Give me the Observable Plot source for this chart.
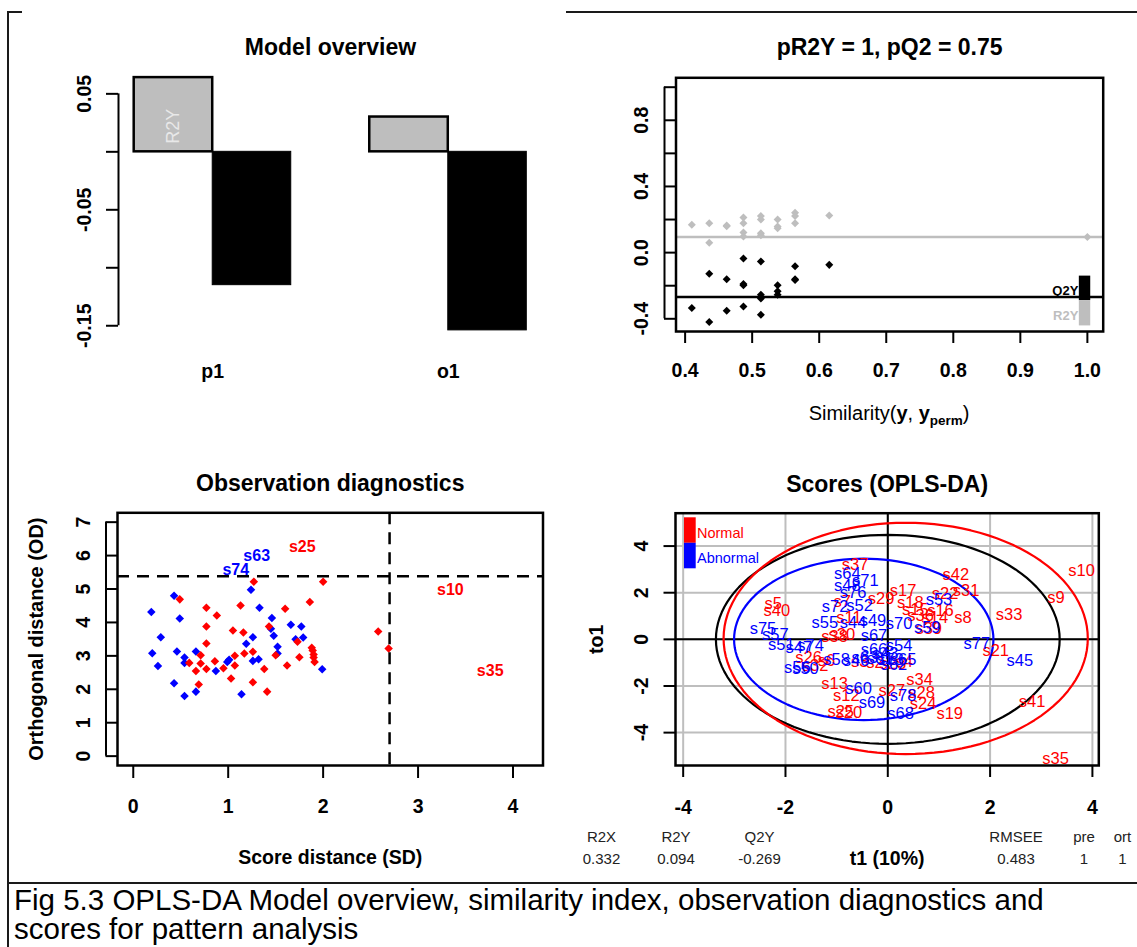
<!DOCTYPE html>
<html>
<head>
<meta charset="utf-8">
<script src="https://cdn.jsdelivr.net/npm/d3@7"></script>
<script src="https://cdn.jsdelivr.net/npm/@observablehq/plot@0.6"></script>
<style>
  html, body { margin: 0; padding: 0; background: #fff; }
  #page { position: relative; width: 1137px; height: 947px; overflow: hidden; background: #fff;
          font-family: "Liberation Sans", Arial, Helvetica, sans-serif; }
  #page svg { position: absolute; overflow: visible; }
  .rule { position: absolute; background: #1a1a1a; }
  #caption { position: absolute; left: 14px; top: 885px; font-size: 29.5px; line-height: 29px; color: #000; white-space: nowrap; }
</style>
</head>
<body>
<div id="page">
  <div class="rule" style="left:7px;top:11px;width:1.5px;height:936px"></div>
  <div class="rule" style="left:7px;top:11px;width:15px;height:1.5px"></div>
  <div class="rule" style="left:566px;top:11px;width:571px;height:1.5px"></div>
  <div class="rule" style="left:7px;top:882px;width:1130px;height:2px"></div>
  <div id="caption">Fig 5.3 OPLS-DA Model overview, similarity index, observation diagnostics and<br>scores for pattern analysis</div>
</div>
<script>
// ================= DATA =================
// --- Model overview ---
const components = ["p1", "o1"];
const componentR2Y = [0.064, 0.030];
const componentQ2Y = [-0.115, -0.154];
const overviewYTicks = [0.05, 0, -0.05, -0.10, -0.15];
const overviewYLabels = [0.05, -0.05, -0.15];

// --- Permutation test (similarity index) ---
const permSimilarity = [0.410, 0.436, 0.436, 0.462, 0.462, 0.487, 0.487, 0.487, 0.487, 0.513,
                        0.513, 0.513, 0.513, 0.538, 0.538, 0.538, 0.564, 0.564, 0.564, 0.615];
const permR2Y = [0.168, 0.178, 0.060, 0.164, 0.160, 0.212, 0.178, 0.121, 0.097, 0.221,
                 0.200, 0.117, 0.105, 0.200, 0.158, 0.148, 0.241, 0.221, 0.178, 0.225];
const permQ2Y = [-0.335, -0.128, -0.420, -0.161, -0.351, -0.035, -0.189, -0.197, -0.325, -0.053,
                 -0.254, -0.278, -0.376, -0.197, -0.234, -0.254, -0.082, -0.161, -0.165, -0.074];
const modelSimilarity = 1;
const modelR2Y = 0.094;
const modelQ2Y = -0.269;
const permLegendNames = ["Q2Y", "R2Y"];
const permLegendColors = ["#000000", "#BEBEBE"];
const permLegendHigh = [-0.142, -0.290];
const permLegendLow = [-0.290, -0.443];
const permLegendTextY = [-0.232, -0.384];
const permXTicks = [0.4, 0.5, 0.6, 0.7, 0.8, 0.9, 1.0];
const permYTicks = [-0.4, -0.2, 0, 0.2, 0.4, 0.6, 0.8, 1.0];
const permYLabels = [-0.4, 0, 0.4, 0.8];

// --- Observation diagnostics ---
const normalSD = [0.49,0.77,0.88,0.77,0.77,0.59,0.71,0.71,0.66,0.77,0.69,0.86,0.95,1.07,1.05,1.07,1.03,1.13,1.16,1.17,
                  1.27,1.26,1.26,1.38,1.41,1.43,1.50,1.60,1.62,1.73,1.75,1.86,1.88,1.89,1.90,1.90,1.91,2.00,2.58,2.69];
const normalOD = [4.69,4.44,4.21,3.88,3.37,2.79,3.02,2.77,2.55,2.61,2.14,2.84,2.63,3.00,3.76,2.71,2.32,4.51,3.70,3.07,
                  5.22,3.12,2.21,2.61,1.93,3.88,3.02,4.41,2.71,3.42,2.96,4.61,3.24,3.16,3.04,2.95,2.82,5.22,3.73,3.22];
const abnormalSD = [0.19,0.43,0.49,0.29,0.20,0.26,0.46,0.54,0.54,0.43,0.54,0.66,0.66,0.87,0.99,1.01,1.14,1.19,1.26,1.24,
                    1.33,1.26,1.32,1.46,1.45,1.48,1.52,1.52,1.66,1.77,1.71,1.79,1.99];
const abnormalOD = [4.31,4.80,4.12,3.56,3.08,2.70,3.13,2.95,2.79,2.18,1.80,1.93,3.13,2.55,2.82,2.88,1.85,3.36,3.56,4.98,
                    4.44,2.85,2.90,4.13,3.81,3.60,3.27,3.07,3.93,3.88,3.50,3.55,2.60];
const outlierNames = ["s74", "s63", "s25", "s10", "s35"];
const outlierClass = ["Abnormal", "Abnormal", "Normal", "Normal", "Normal"];
const outlierSD = [1.08, 1.30, 1.78, 3.34, 3.76];
const outlierOD = [5.56, 6.00, 6.25, 4.98, 2.55];
const sdCutoff = 2.70;
const odCutoff = 5.38;
const diagXTicks = [0, 1, 2, 3, 4];
const diagYTicks = [0, 1, 2, 3, 4, 5, 6, 7];

// --- Scores (OPLS-DA) ---
const normalNames = ["s37","s5","s40","s29","s17","s42","s22","s31","s10","s9","s33","s8","s21","s41","s35","s34","s28",
  "s27","s24","s19","s13","s12","s25","s20","s7","s11","s38","s30","s18","s15","s16","s36","s14","s39","s26","s32","s6",
  "s3","s2","s23","s4"];
const normalT1 = [-0.64,-2.24,-2.17,-0.13,0.30,1.33,1.12,1.53,3.79,3.29,2.37,1.47,2.11,2.82,3.28,0.62,0.66,
  0.08,0.69,1.21,-1.04,-0.81,-0.92,-0.76,-0.89,-0.76,-1.04,-0.90,0.44,0.54,1.03,0.64,0.92,0.80,-1.55,-1.42,-1.20,
  -0.55,-0.25,0.10,0.32];
const normalTo1 = [3.21,1.54,1.22,1.75,2.09,2.77,1.95,2.07,2.93,1.78,1.07,0.93,-0.50,-2.66,-5.10,-1.71,-2.31,
  -2.21,-2.74,-3.19,-1.90,-2.43,-3.12,-3.16,1.60,0.93,0.12,0.20,1.57,1.29,1.21,1.00,0.93,0.47,-0.79,-1.14,-0.90,
  -0.95,-1.00,-1.05,-0.95];
const abnormalNames = ["s64","s71","s48","s76","s72","s52","s55","s44","s49","s70","s67","s53","s59","s75","s57","s51",
  "s47","s74","s66","s54","s58","s56","s50","s63","s61","s73","s65","s46","s43","s62","s77","s45","s60","s69","s78","s68"];
const abnormalT1 = [-0.79,-0.44,-0.79,-0.68,-1.03,-0.55,-1.23,-0.68,-0.29,0.22,-0.27,1.00,0.77,-2.44,-2.20,-2.08,
  -1.74,-1.51,-0.27,0.22,-1.00,-1.77,-1.61,-0.45,-0.15,0.05,0.30,-0.62,-0.05,0.12,1.74,2.58,-0.57,-0.31,0.30,0.25];
const abnormalTo1 = [2.81,2.53,2.29,2.00,1.40,1.46,0.73,0.73,0.82,0.66,0.17,1.69,0.50,0.47,0.19,-0.24,
  -0.36,-0.29,-0.43,-0.29,-0.86,-1.21,-1.25,-0.78,-0.82,-0.88,-0.86,-0.92,-0.62,-1.10,-0.18,-0.91,-2.12,-2.72,-2.40,-3.19];
const ellipseGroups = ["All", "Normal", "Abnormal"];
const ellipseColors = ["#000000", "#FF0000", "#0000FF"];
const ellipseCenterT1 = [0, 0.35, -0.47];
const ellipseCenterTo1 = [0, 0.04, 0];
const ellipseRadiusT1 = [3.36, 3.56, 2.535];
const ellipseRadiusTo1 = [4.48, 4.96, 3.46];
const scoreTicks = [-4, -2, 0, 2, 4];
const classNames = ["Normal", "Abnormal"];
const classColors = ["#FF0000", "#0000FF"];
const statNames = ["R2X", "R2Y", "Q2Y", "RMSEE", "pre", "ort"];
const statValues = ["0.332", "0.094", "-0.269", "0.483", "1", "1"];

// ================= RENDER =================
const FONT = '"Liberation Sans", Arial, Helvetica, sans-serif';
const page = document.getElementById("page");
const RED = "#FF0000", BLUE = "#0000FF", GRAY = "#BEBEBE";
const BOLD = {fontWeight: "bold", fill: "#000", fontFamily: FONT};
const baseStyle = {fontFamily: FONT, background: "transparent", overflow: "visible", color: "#000"};

function place(svg, left, top) {
  svg.style.left = left + "px";
  svg.style.top = top + "px";
  svg.style.maxWidth = "none";
  page.appendChild(svg);
  return svg;
}
function rExtend(lo, hi) { const e = 0.04 * (hi - lo); return [lo - e, hi + e]; }

// pch 18 style diamond (equal diagonals)
const diamond = {
  draw(context, size) {
    const h = Math.sqrt(size / 2);
    context.moveTo(0, -h); context.lineTo(h, 0); context.lineTo(0, h); context.lineTo(-h, 0); context.closePath();
  }
};

function yTickLabels(values, fmt, dx) {
  return Plot.text(values, {y: d => d, text: fmt, frameAnchor: "left", dx, rotate: -90,
    textAnchor: "middle", lineAnchor: "middle", fontSize: 19.5, ...BOLD});
}
function xTickLabels(values, fmt, dy) {
  return Plot.text(values, {x: d => d, text: fmt, frameAnchor: "bottom", dy,
    textAnchor: "middle", lineAnchor: "middle", fontSize: 19.5, ...BOLD});
}
function title(txt, dy) {
  return Plot.text([txt], {text: d => d, frameAnchor: "top", dy, lineAnchor: "middle", fontSize: 23, ...BOLD});
}

// ---------- Panel 1 : Model overview ----------
{
  const bars = components.flatMap((c, i) => [
    {component: c, metric: "R2Y", x1: 1 + 3 * i, x2: 2 + 3 * i, value: componentR2Y[i]},
    {component: c, metric: "Q2Y", x1: 2 + 3 * i, x2: 3 + 3 * i, value: componentQ2Y[i]}
  ]);
  const xDom = rExtend(d3.min(bars, d => d.x1), d3.max(bars, d => d.x2));
  const vals = bars.map(d => d.value);
  const yDom = rExtend(Math.min(0, ...vals), Math.max(0, ...vals));
  const svg = Plot.plot({
    width: 570, height: 440, marginLeft: 118, marginRight: 28, marginTop: 67, marginBottom: 100,
    x: {domain: xDom, axis: null}, y: {domain: yDom, axis: null},
    style: baseStyle,
    marks: [
      Plot.rect(bars.filter(d => d.metric === "R2Y"), {x1: "x1", x2: "x2", y1: 0, y2: "value", fill: GRAY, stroke: "#000", strokeWidth: 2.5}),
      Plot.rect(bars.filter(d => d.metric === "Q2Y"), {x1: "x1", x2: "x2", y1: 0, y2: "value", fill: "#000", stroke: "#000", strokeWidth: 1}),
      Plot.text(bars.filter(d => d.metric === "R2Y" && d.component === "p1"),
        {x: d => (d.x1 + d.x2) / 2, y: 0, text: d => d.metric, rotate: -90, textAnchor: "start", lineAnchor: "middle",
         dy: -8, fill: "#E8E8E8", fontSize: 18, fontFamily: FONT}),
      Plot.ruleX([xDom[0]], {y1: d3.min(overviewYTicks), y2: d3.max(overviewYTicks), stroke: "#000", strokeWidth: 2}),
      Plot.axisY(overviewYTicks, {anchor: "left", tickSize: 12, tickFormat: () => "", label: null, strokeWidth: 2}),
      yTickLabels(overviewYLabels, d => d.toFixed(2), -34),
      Plot.text(components, {x: (d, i) => 2 + 3 * i, text: d => d, frameAnchor: "bottom", dy: 31,
        lineAnchor: "middle", fontSize: 19.5, ...BOLD}),
      title("Model overview", -20)
    ]
  });
  place(svg, 0, 0);
}

// ---------- Panel 2 : Permutation / similarity ----------
{
  const allY = [...permR2Y, ...permQ2Y, modelR2Y, modelQ2Y];
  const xDom = rExtend(d3.min(permSimilarity), modelSimilarity);
  const yDom = rExtend(d3.min(allY), 1);
  const idx = d3.range(permSimilarity.length);
  const legIdx = d3.range(permLegendNames.length);
  const svg = Plot.plot({
    width: 567, height: 440, marginLeft: 105.5, marginRight: 34.3, marginTop: 77.3, marginBottom: 109,
    x: {domain: xDom, axis: null}, y: {domain: yDom, axis: null},
    style: baseStyle,
    marks: [
      Plot.ruleY([modelR2Y], {stroke: GRAY, strokeWidth: 2.5}),
      Plot.ruleY([modelQ2Y], {stroke: "#000", strokeWidth: 2.5}),
      Plot.dot(idx, {x: i => permSimilarity[i], y: i => permR2Y[i], symbol: diamond, r: 3.2, fill: GRAY, stroke: "none"}),
      Plot.dot(idx, {x: i => permSimilarity[i], y: i => permQ2Y[i], symbol: diamond, r: 3.2, fill: "#000", stroke: "none"}),
      Plot.dot([modelSimilarity], {x: d => d, y: modelR2Y, symbol: diamond, r: 3.2, fill: GRAY, stroke: "none"}),
      Plot.rect(legIdx, {x1: 0.988, x2: 1.005, y1: i => permLegendLow[i], y2: i => permLegendHigh[i],
        fill: i => permLegendColors[i]}),
      Plot.text(legIdx, {x: 0.988, y: i => permLegendTextY[i], text: i => permLegendNames[i], textAnchor: "end",
        lineAnchor: "middle", dx: -1, fontSize: 13, fontWeight: "bold", fill: i => permLegendColors[i], fontFamily: FONT}),
      Plot.frame({stroke: "#000", strokeWidth: 2.5}),
      Plot.ruleX([xDom[0]], {y1: d3.min(permYTicks), y2: d3.max(permYTicks), dx: -11.5, stroke: "#000", strokeWidth: 2}),
      Plot.axisY(permYTicks, {anchor: "left", tickSize: 11.5, tickFormat: () => "", label: null, strokeWidth: 2}),
      Plot.axisX(permXTicks, {anchor: "bottom", tickSize: 12, tickFormat: () => "", label: null, strokeWidth: 2}),
      yTickLabels(permYLabels, d => d.toFixed(1), -34.5),
      xTickLabels(permXTicks, d => d.toFixed(1), 39),
      title("pR2Y = 1, pQ2 = 0.75", -30.3)
    ]
  });
  // x-axis title with mixed styling
  const t = d3.select(svg).append("text")
    .attr("x", 105.5 + (567 - 105.5 - 34.3) / 2).attr("y", 420)
    .attr("text-anchor", "middle").attr("font-family", FONT).attr("font-size", 20).attr("fill", "#000");
  t.append("tspan").text("Similarity(");
  t.append("tspan").attr("font-weight", "bold").text("y");
  t.append("tspan").text(", ");
  t.append("tspan").attr("font-weight", "bold").text("y");
  t.append("tspan").attr("font-weight", "bold").attr("font-size", 13.5).attr("dy", 5).text("perm");
  t.append("tspan").attr("dy", -5).text(")");
  place(svg, 570, 0);
}

// ---------- Panel 3 : Observation diagnostics ----------
{
  const xDom = rExtend(0, 4.15);
  const yDom = rExtend(0, 7);
  const nIdx = d3.range(normalSD.length), aIdx = d3.range(abnormalSD.length), oIdx = d3.range(outlierNames.length);
  const svg = Plot.plot({
    width: 570, height: 445, marginLeft: 117, marginRight: 27.5, marginTop: 72.3, marginBottom: 120,
    x: {domain: xDom, axis: null}, y: {domain: yDom, axis: null},
    style: baseStyle,
    marks: [
      Plot.dot(aIdx, {x: i => abnormalSD[i], y: i => abnormalOD[i], symbol: diamond, r: 3.4, fill: BLUE, stroke: "none"}),
      Plot.dot(nIdx, {x: i => normalSD[i], y: i => normalOD[i], symbol: diamond, r: 3.4, fill: RED, stroke: "none"}),
      Plot.text(oIdx, {x: i => outlierSD[i], y: i => outlierOD[i], text: i => outlierNames[i],
        fill: i => outlierClass[i] === "Normal" ? RED : BLUE, fontSize: 16, fontWeight: "bold", fontFamily: FONT,
        lineAnchor: "middle"}),
      Plot.ruleX([sdCutoff], {stroke: "#000", strokeWidth: 2.5, strokeDasharray: "12,8"}),
      Plot.ruleY([odCutoff], {stroke: "#000", strokeWidth: 2.5, strokeDasharray: "12,8"}),
      Plot.frame({stroke: "#000", strokeWidth: 2.5}),
      Plot.ruleX([xDom[0]], {y1: d3.min(diagYTicks), y2: d3.max(diagYTicks), dx: -11.5, stroke: "#000", strokeWidth: 2}),
      Plot.axisY(diagYTicks, {anchor: "left", tickSize: 11.5, tickFormat: () => "", label: null, strokeWidth: 2}),
      Plot.axisX(diagXTicks, {anchor: "bottom", tickSize: 13, tickFormat: () => "", label: null, strokeWidth: 2}),
      yTickLabels(diagYTicks, d => d.toFixed(0), -33.4),
      xTickLabels(diagXTicks, d => d.toFixed(0), 41),
      Plot.text(["Orthogonal distance (OD)"], {text: d => d, frameAnchor: "left", dx: -80.6, rotate: -90,
        textAnchor: "middle", lineAnchor: "middle", fontSize: 20, ...BOLD}),
      Plot.text(["Score distance (SD)"], {text: d => d, frameAnchor: "bottom", dy: 92,
        lineAnchor: "middle", fontSize: 19.5, ...BOLD}),
      title("Observation diagnostics", -29.3)
    ]
  });
  place(svg, 0, 440);
}

// ---------- Panel 4 : Scores (OPLS-DA) ----------
{
  const xDom = [-4.15, 4.125];
  const yDom = [-5.41, 5.41];
  const frameW = 567 - 105 - 38.7, frameH = 445 - 72.7 - 120;
  const pxX = px => xDom[0] + px / frameW * (xDom[1] - xDom[0]);
  const pxY = py => yDom[1] - py / frameH * (yDom[1] - yDom[0]);
  const angles = d3.range(0, 362, 3).map(a => a * Math.PI / 180);
  const nIdx = d3.range(normalNames.length), aIdx = d3.range(abnormalNames.length);
  const legIdx = d3.range(classNames.length);
  const statX = [31, 105.5, 189, 445.5, 513.5, 552];
  const statMarks = statNames.flatMap((s, i) => [
    Plot.text([s], {text: d => d, frameAnchor: "bottom-left", dx: statX[i] - 105, dy: 71.7, lineAnchor: "middle",
      textAnchor: "middle", fontSize: 15, fill: "#222", fontFamily: FONT}),
    Plot.text([statValues[i]], {text: d => d, frameAnchor: "bottom-left", dx: statX[i] - 105, dy: 93.3, lineAnchor: "middle",
      textAnchor: "middle", fontSize: 15, fill: "#222", fontFamily: FONT})
  ]);
  const svg = Plot.plot({
    width: 567, height: 445, marginLeft: 105, marginRight: 38.7, marginTop: 72.7, marginBottom: 120,
    x: {domain: xDom, axis: null}, y: {domain: yDom, axis: null},
    style: baseStyle,
    marks: [
      Plot.ruleX(scoreTicks, {stroke: GRAY, strokeWidth: 2}),
      Plot.ruleY(scoreTicks, {stroke: GRAY, strokeWidth: 2}),
      Plot.ruleX([0], {stroke: "#000", strokeWidth: 2}),
      Plot.ruleY([0], {stroke: "#000", strokeWidth: 2}),
      ...ellipseGroups.map((g, i) => Plot.line(angles, {
        x: a => ellipseCenterT1[i] + ellipseRadiusT1[i] * Math.cos(a),
        y: a => ellipseCenterTo1[i] + ellipseRadiusTo1[i] * Math.sin(a),
        stroke: ellipseColors[i], strokeWidth: 2.2})),
      Plot.text(nIdx, {x: i => normalT1[i], y: i => normalTo1[i], text: i => normalNames[i], fill: RED,
        fontSize: 16.5, lineAnchor: "middle", fontFamily: FONT}),
      Plot.text(aIdx, {x: i => abnormalT1[i], y: i => abnormalTo1[i], text: i => abnormalNames[i], fill: BLUE,
        fontSize: 16.5, lineAnchor: "middle", fontFamily: FONT}),
      Plot.rect(legIdx, {x1: pxX(9), x2: pxX(20.7), y1: i => pxY(4.6 + 25.5 * i), y2: i => pxY(30.1 + 25.5 * i),
        fill: i => classColors[i]}),
      ...classNames.map((c, i) => Plot.text([c], {text: d => d, frameAnchor: "top-left", dx: 21.5, dy: 20.3 + 25 * i,
        textAnchor: "start", lineAnchor: "middle", fontSize: 14.5, fill: classColors[i], fontFamily: FONT})),
      Plot.frame({stroke: "#000", strokeWidth: 2.5}),
      Plot.axisY(scoreTicks, {anchor: "left", tickSize: 11.5, tickFormat: () => "", label: null, strokeWidth: 2}),
      Plot.axisX(scoreTicks, {anchor: "bottom", tickSize: 12, tickFormat: () => "", label: null, strokeWidth: 2}),
      yTickLabels(scoreTicks, d => d.toFixed(0), -33.3),
      xTickLabels(scoreTicks, d => d.toFixed(0), 42),
      Plot.text(["to1"], {text: d => d, frameAnchor: "left", dx: -79, rotate: -90, textAnchor: "middle",
        lineAnchor: "middle", fontSize: 19.5, ...BOLD}),
      Plot.text(["t1 (10%)"], {text: d => d, frameAnchor: "bottom", dy: 93.3, lineAnchor: "middle", fontSize: 19.5, ...BOLD}),
      ...statMarks,
      title("Scores (OPLS-DA)", -28.7)
    ]
  });
  place(svg, 570, 440);
}
</script>
</body>
</html>
